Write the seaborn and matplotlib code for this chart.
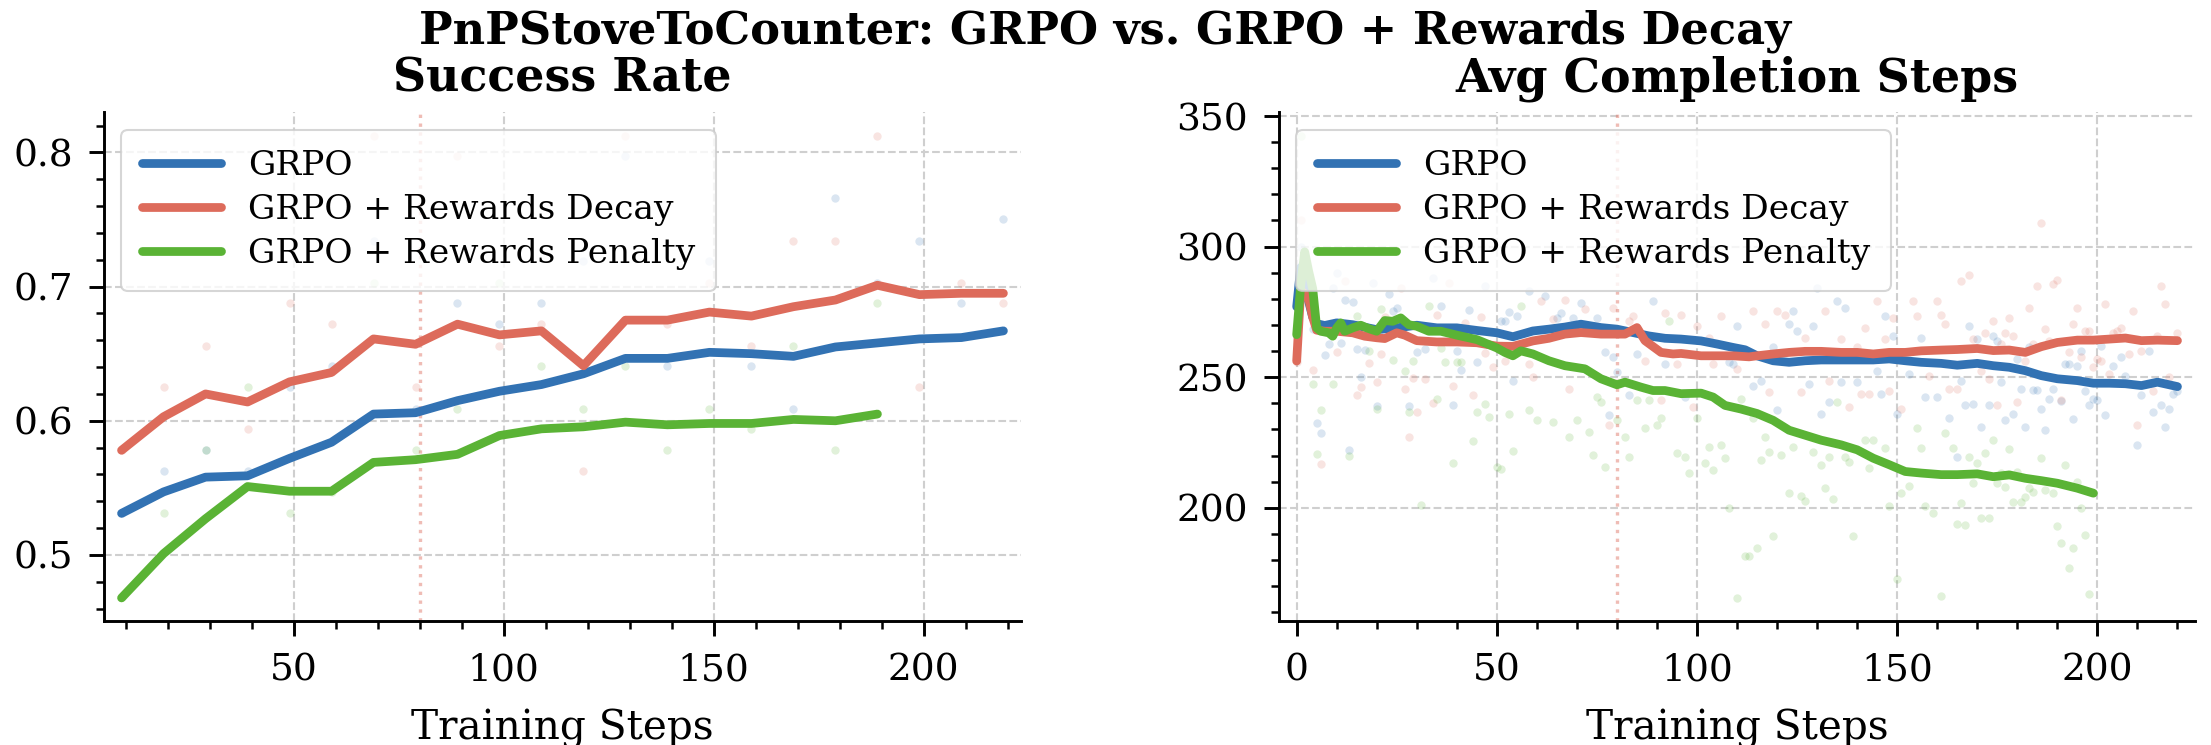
import numpy as np
import pandas as pd
import matplotlib
matplotlib.use("Agg")
import matplotlib.pyplot as plt
import seaborn as sns
from matplotlib.ticker import MultipleLocator

# ---- data ----
series_names = ["GRPO", "GRPO + Rewards Decay", "GRPO + Rewards Penalty"]
series_colors = ["#3272B3", "#DD6B5B", "#5AB335"]
marker_step = 80

# success rate (evaluated every 10 steps)
sr_steps = [9, 19, 29, 39, 49, 59, 69, 79, 89, 99, 109, 119, 129, 139, 149, 159, 169, 179, 189, 199, 209, 219]
sr_grpo_line = [0.531, 0.547, 0.558, 0.559, 0.572, 0.584, 0.605, 0.606, 0.615, 0.622, 0.627, 0.635,
                0.6465, 0.6465, 0.651, 0.650, 0.648, 0.655, 0.658, 0.661, 0.662, 0.667]
sr_decay_line = [0.578, 0.603, 0.620, 0.614, 0.629, 0.636, 0.661, 0.657, 0.672, 0.664, 0.667, 0.641,
                 0.675, 0.675, 0.681, 0.678, 0.685, 0.690, 0.701, 0.694, 0.695, 0.695]
sr_penalty_steps = sr_steps[:19]
sr_penalty_line = [0.468, 0.501, 0.527, 0.551, 0.5475, 0.5475, 0.569, 0.571, 0.575, 0.589, 0.594, 0.5955,
                   0.599, 0.597, 0.598, 0.598, 0.601, 0.600, 0.605]

sr_grpo_raw = [0.531, 0.5625, 0.578, 0.5625, 0.625, 0.641, 0.734, 0.609, 0.6875, 0.672, 0.6875, 0.719,
               0.797, 0.641, 0.719, 0.641, 0.609, 0.766, 0.703, 0.734, 0.6875, 0.75]
sr_decay_raw = [0.578, 0.625, 0.656, 0.594, 0.6875, 0.672, 0.8125, 0.625, 0.797, 0.656, 0.672, 0.5625,
                0.8125, 0.672, 0.703, 0.656, 0.734, 0.734, 0.8125, 0.625, 0.703, 0.6875]
sr_penalty_raw = [0.469, 0.531, 0.578, 0.625, 0.531, 0.547, 0.703, 0.578, 0.609, 0.703, 0.641, 0.609,
                  0.641, 0.578, 0.609, 0.594, 0.656, 0.578, 0.6875]

# avg completion steps, smoothed curves (step, value)
acs_grpo_line = [(0, 277), (1, 292), (2, 285), (3, 279), (4, 273), (5, 270.5), (7, 269.8), (10, 270.8), (14, 270.1),
                 (20, 268.2), (25, 268.9), (30, 269.9), (35, 268.9), (40, 268.9), (45, 267.9), (50, 267.0),
                 (54, 265.5), (59, 267.7), (63, 268.4), (67, 269.2), (71, 270.3), (76, 269.0), (80, 268.4),
                 (84, 267.1), (88, 265.8), (92, 264.9), (96, 264.6), (101, 263.9), (105, 262.7), (109, 261.4),
                 (112, 260.5), (115, 258.2), (119, 256.3), (123, 255.7), (127, 256.3), (131, 256.6), (136, 256.6),
                 (140, 256.6), (144, 256.6), (148, 257.0), (152, 256.3), (156, 255.7), (161, 255.3), (165, 254.6),
                 (170, 255.3), (174, 254.4), (178, 253.8), (182, 252.5), (186, 250.6), (190, 249.4), (195, 248.7),
                 (199, 247.7), (203, 247.7), (207, 247.5), (211, 246.8), (215, 248.1), (220, 246.4)]
acs_decay_line = [(0, 256.2), (1, 283), (2, 282), (3, 280), (4, 273), (5, 268), (7, 267.6), (10, 267.6), (14, 267.0),
                  (17, 265.7), (20, 265.1), (22, 264.8), (25, 267.0), (27, 266.1), (30, 264.0), (35, 263.5),
                  (40, 263.5), (45, 263.2), (50, 261.9), (54, 261.8), (59, 263.9), (63, 264.9), (67, 266.5),
                  (71, 267.1), (76, 266.5), (80, 266.5), (82, 266.5), (85, 269.0), (87, 264.0), (91, 259.5),
                  (94, 258.9), (96, 259.1), (101, 258.2), (105, 258.2), (109, 258.2), (113, 257.8), (115, 258.2),
                  (119, 258.9), (123, 259.5), (127, 259.9), (131, 259.9), (136, 259.5), (140, 259.5), (144, 258.9),
                  (148, 259.5), (152, 259.5), (156, 260.1), (161, 260.4), (165, 260.6), (170, 261.0), (174, 260.2),
                  (178, 260.4), (182, 259.5), (186, 261.7), (190, 263.3), (195, 264.2), (199, 264.2), (203, 264.6),
                  (207, 265.0), (211, 264.0), (215, 264.2), (220, 264.0)]
acs_penalty_line = [(0, 266.3), (1, 285), (2, 298), (3, 290.5), (4, 284), (5, 268.9), (6, 267.6), (8, 267.0), (9, 265.7),
                    (10, 268.9), (11, 270.8), (12, 267.6), (14, 268.9), (16, 269.9), (18, 268.6), (20, 267.6),
                    (22, 271.7), (24, 271.4), (26, 272.7), (28, 270.1), (30, 269.5), (33, 267.6), (36, 267.6),
                    (40, 266.1), (45, 264.4), (48, 262.5), (50, 261.2), (52, 259.5), (54, 258.2), (56, 260.1),
                    (59, 258.9), (63, 256.3), (67, 254.4), (72, 253.2), (76, 249.4), (80, 247.1), (82, 248.1),
                    (86, 246.2), (89, 244.9), (92, 244.9), (96, 243.7), (101, 243.9), (104, 242.4), (107, 239.2),
                    (111, 237.8), (115, 236.1), (119, 233.5), (123, 229.7), (127, 227.8), (131, 225.9), (136, 224.1),
                    (140, 222.2), (144, 219.0), (148, 216.5), (152, 213.9), (156, 213.3), (161, 212.7), (165, 212.7),
                    (170, 213.0), (174, 211.9), (178, 212.6), (182, 211.3), (186, 210.4), (190, 209.4), (195, 207.5),
                    (199, 205.6)]

# avg completion steps, raw per-step points that are visible (step, value)
acs_grpo_raw = [(0, 277), (1, 300), (2, 286), (3, 282), (4, 268.6), (5, 232.4), (6, 228.6), (7, 258.4), (8, 262.9),
                (9, 284), (10, 290), (11, 263.2), (12, 279.7), (13, 222.1), (14, 278.8), (15, 260.9), (16, 250.2),
                (17, 260.6), (19, 286), (20, 239), (23, 282), (24, 275.2), (25, 276.5), (28, 239), (30, 259.6),
                (32, 260.9), (34, 288), (36, 277.1), (39, 239.4), (40, 260.2), (41, 252.6), (43, 275.9), (45, 255.8),
                (47, 285), (51, 271.7), (53, 275), (54, 248.5), (52, 271.5), (55, 273.4), (58, 283), (62, 281),
                (65, 272.8), (66, 274.7), (69, 272.8), (71, 278.5), (75, 272.8), (77, 259.5), (78, 235.4),
                (79, 257.6), (80, 251.9), (83, 243), (85, 258.9), (89, 279.1), (92, 255), (97, 242.4), (108, 255.7),
                (109, 255), (110, 269.6), (114, 246.8), (116, 248.7), (119, 261.4), (120, 237.3), (123, 270.3),
                (124, 275.3), (125, 267.7), (128, 247.5), (129, 269.6), (130, 284.2), (131, 236.1), (133, 240.5),
                (135, 279.1), (136, 248.1), (137, 276.6), (140, 248.1), (145, 252.5), (146, 243.7), (147, 273.4),
                (149, 265.8), (150, 236.1), (153, 251.3), (156, 265.2), (157, 242.4), (160, 242.4), (163, 234.2),
                (165, 219.6), (167, 239.2), (168, 269.6), (169, 239.9), (166, 248.7), (170, 264.6), (171, 231),
                (173, 239.2), (174, 265.9), (175, 264), (176, 248.1), (177, 233.5), (179, 236), (180, 257),
                (181, 245.6), (182, 231), (183, 261.4), (184, 245), (185, 245), (186, 237.9), (187, 229.7),
                (188, 241.8), (189, 245.6), (191, 241), (192, 255.1), (193, 255.1), (194, 234.1), (195, 254.4),
                (196, 260.2), (197, 244.9), (198, 239.2), (199, 241.8), (200, 241.1), (201, 262.1), (202, 235.4),
                (204, 254.4), (206, 257.6), (207, 250.6), (210, 224), (211, 243), (213, 260.2), (214, 236.7),
                (216, 239.2), (217, 231), (218, 237.9), (219, 243.7), (220, 244.9)]
acs_decay_raw = [(0, 256), (1, 310), (2, 282), (4, 252.6), (6, 216.8), (10, 259.7), (12, 287), (15, 243.1),
                 (16, 246.3), (18, 255.5), (20, 248.3), (21, 259), (22, 272.9), (26, 284), (27, 245.4), (28, 227),
                 (29, 249.8), (30, 236.7), (32, 249.4), (34, 240), (35, 273.7), (38, 286), (39, 246.6), (42, 270.8),
                 (44, 243.1), (46, 273.1), (47, 259.3), (49, 253.9), (52, 256.3), (58, 255), (59, 250), (61, 279.1),
                 (64, 272.2), (67, 279.7), (68, 245.6), (72, 276), (78, 231.6), (79, 276.6), (83, 271.5),
                 (84, 273.4), (87, 256.3), (91, 241.1), (92, 274.7), (95, 255), (96, 274), (99, 238.6), (100, 269.6),
                 (103, 265.2), (104, 255), (105, 241.1), (106, 273.4), (110, 253.2), (114, 275.3), (117, 270.3),
                 (118, 244.3), (120, 275.3), (122, 274), (126, 244.3), (127, 265.2), (132, 275.3), (133, 248.7),
                 (136, 264.6), (138, 238.6), (140, 261.4), (141, 243.7), (142, 269), (143, 243.7), (145, 279.1),
                 (147, 264.6), (148, 244.9), (149, 272.8), (151, 238), (154, 279.1), (155, 273.4), (158, 250.6),
                 (160, 279.1), (161, 274), (162, 270.3), (163, 245.6), (165, 245.6), (166, 286.7), (168, 289.2),
                 (169, 264.6), (171, 252.5), (172, 267.1), (173, 249.4), (174, 271.6), (175, 239.2), (176, 262.7),
                 (177, 267.1), (178, 272.8), (179, 265.9), (180, 240.5), (182, 256.3), (183, 276.6), (184, 262.7),
                 (185, 284.9), (186, 309), (187, 268.4), (188, 264), (189, 285.5), (190, 287.4), (191, 241.1),
                 (193, 259.5), (194, 270.3), (195, 276.6), (196, 257.6), (197, 267.8), (198, 267.8), (199, 253.8),
                 (200, 257), (201, 256.3), (202, 277.9), (203, 251.3), (204, 267.1), (205, 267.8), (206, 269),
                 (208, 258.9), (209, 275.4), (210, 231.6), (211, 260.2), (214, 244.9), (215, 265.9), (216, 284.9),
                 (217, 277.9), (218, 250), (220, 267.1)]
acs_penalty_raw = [(0, 266), (1, 342.5), (2, 285), (4, 247.3), (5, 220.6), (6, 237.4), (9, 247.3), (13, 220),
                   (15, 273.3), (18, 260.2), (20, 237.7), (21, 276.2), (24, 256.5), (27, 252.4), (28, 236.7),
                   (29, 256.2), (31, 200.9), (33, 277.1), (35, 241.5), (36, 261.2), (37, 255.8), (39, 217.2),
                   (40, 255.8), (41, 255.8), (44, 225.7), (45, 236.8), (47, 239.6), (48, 234.8), (50, 215.8),
                   (51, 214.9), (53, 236.1), (54, 221.9), (56, 277.2), (58, 237.3), (60, 233.5), (64, 232.9),
                   (68, 227.2), (70, 233.5), (73, 229.1), (74, 220.3), (75, 242.4), (76, 240.5), (77, 215.8),
                   (80, 233.5), (82, 227.2), (83, 219.6), (85, 241.1), (87, 230.4), (88, 241.1), (90, 231.6),
                   (91, 234.2), (93, 271.5), (95, 220.9), (97, 219.6), (98, 213.3), (100, 234.2), (102, 217.1),
                   (103, 223.4), (104, 214.6), (106, 224.1), (107, 219), (108, 200), (110, 165.5), (111, 241.8),
                   (112, 181.6), (113, 181.6), (115, 184.8), (114, 234.2), (116, 218.4), (117, 227.2), (119, 189.2),
                   (118, 221.5), (121, 220.3), (123, 205.7), (124, 223.4), (126, 204.4), (127, 202.5), (129, 221.5),
                   (131, 216.5), (132, 207.6), (133, 219.6), (134, 203.2), (135, 240.5), (137, 219.6), (138, 217.7),
                   (139, 189.2), (142, 225.9), (143, 215.2), (144, 225.9), (147, 222.8), (148, 200.6), (150, 172.8),
                   (151, 205.7), (153, 208.2), (155, 230.4), (156, 222.8), (157, 200.6), (159, 198.1), (161, 166.2),
                   (162, 228.5), (164, 222.8), (165, 193.7), (166, 201.9), (168, 219.6), (167, 193.5), (169, 209.4),
                   (170, 217), (171, 196.1), (172, 220.8), (173, 196.1), (174, 225.9), (175, 209.4), (176, 213.2),
                   (177, 208.1), (178, 222.7), (179, 202.4), (180, 213.8), (181, 202.4), (182, 204.3), (183, 207.5),
                   (184, 206.2), (186, 218.9), (187, 206.9), (189, 205.6), (190, 192.9), (191, 186.5), (192, 216.4),
                   (193, 177.1), (194, 184.6), (195, 210), (196, 199.9), (197, 189.7), (198, 166.9)]

# ---- style ----
sns.set_theme(style="ticks")
plt.rcParams["font.family"] = ["DejaVu Serif"]
plt.rcParams.update({
    "axes.linewidth": 1.4,
    "axes.edgecolor": "black",
    "text.color": "black",
    "axes.labelcolor": "black",
    "xtick.color": "black",
    "ytick.color": "black",
})


def style_axis(ax, xmajor, ymajor, title):
    sns.despine(ax=ax)
    ax.margins(x=0.02)
    ax.xaxis.set_major_locator(MultipleLocator(xmajor))
    ax.xaxis.set_minor_locator(MultipleLocator(xmajor / 5))
    ax.yaxis.set_major_locator(MultipleLocator(ymajor))
    ax.yaxis.set_minor_locator(MultipleLocator(ymajor / 5))
    ax.tick_params(which="major", length=7, width=1.4, labelsize=18, pad=8, color="black")
    ax.tick_params(which="minor", length=4, width=1.2, color="black")
    ax.grid(True, which="major", ls="--", lw=1.0, color="#cfcfcf")
    ax.axvline(marker_step, color=series_colors[1], ls=":", lw=1.6, alpha=0.45, zorder=1)
    ax.set_xlabel("Training Steps", fontsize=19.5, labelpad=10)
    ax.set_ylabel("")
    ax.set_title(title, fontsize=22, fontweight="bold", pad=10)
    ax.legend(loc="upper left", fontsize=16.5, handlelength=2.3, framealpha=0.8,
              edgecolor="#cccccc", fancybox=True, labelspacing=0.35, borderpad=0.6)


fig = plt.figure(figsize=(2211 / 150, 745 / 150), dpi=150)
ax1 = fig.add_axes([0.0470, 0.1664, 0.4148, 0.6826])
ax2 = fig.add_axes([0.5785, 0.1664, 0.4143, 0.6826])

# left: success rate
left_lines = [(sr_steps, sr_grpo_line, sr_steps, sr_grpo_raw),
              (sr_steps, sr_decay_line, sr_steps, sr_decay_raw),
              (sr_penalty_steps, sr_penalty_line, sr_penalty_steps, sr_penalty_raw)]
for (lx, ly, rx, ry), name, c in zip(left_lines, series_names, series_colors):
    sns.scatterplot(x=rx, y=ry, ax=ax1, color=c, alpha=0.18, s=16, linewidth=0, zorder=2)
    sns.lineplot(x=lx, y=ly, ax=ax1, color=c, lw=4.2, label=name, zorder=3)

# right: avg completion steps
right_lines = [(acs_grpo_line, acs_grpo_raw), (acs_decay_line, acs_decay_raw),
               (acs_penalty_line, acs_penalty_raw)]
for (line_pts, raw_pts), name, c in zip(right_lines, series_names, series_colors):
    line_df = pd.DataFrame(line_pts, columns=["step", "value"])
    raw_df = pd.DataFrame(raw_pts, columns=["step", "value"])
    sns.scatterplot(data=raw_df, x="step", y="value", ax=ax2, color=c, alpha=0.18, s=16,
                    linewidth=0, zorder=2)
    sns.lineplot(data=line_df, x="step", y="value", ax=ax2, color=c, lw=4.2, label=name, zorder=3)

style_axis(ax1, 50, 0.1, "Success Rate")
style_axis(ax2, 50, 50, "Avg Completion Steps")

fig.suptitle("PnPStoveToCounter: GRPO vs. GRPO + Rewards Decay", fontsize=21.5,
             fontweight="bold", y=0.958, va="center")

fig.savefig("out.png", dpi=150)
